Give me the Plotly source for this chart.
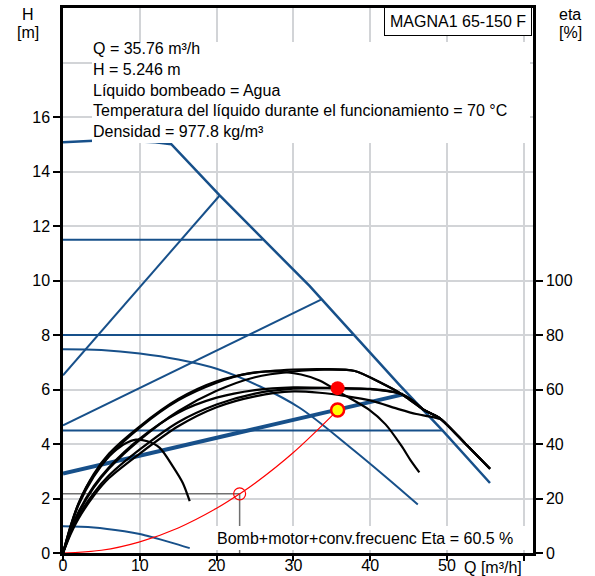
import plotly.graph_objects as go

# ---------------- data ----------------
# Maximum curve (head in m vs flow in m3/h)
q_max = [0, 2, 4, 6, 8, 10, 12, 14.1, 20.4, 26.0, 32.1, 37.8, 43.8, 49.5, 55.6]
h_max = [15.07, 15.1, 15.13, 15.13, 15.12, 15.1, 15.07, 15.0, 13.12, 11.52, 9.8, 8.03, 6.17, 4.47, 2.57]

# Proportional / constant pressure control curves
q_pp_hi = [0, 20.4]
h_pp_hi = [6.52, 13.12]
q_cp_hi = [0, 26.0]
h_cp_hi = [11.5, 11.5]
q_pp_mid = [0, 33.6]
h_pp_mid = [4.68, 9.3]
q_cp_mid = [0, 37.8]
h_cp_mid = [8.0, 8.0]
q_cp_lo = [0, 49.5]
h_cp_lo = [4.5, 4.5]

# Fixed speed curve and minimum curve
q_speed = [0, 5, 10, 15, 20, 25.6, 30.8, 37.3, 42, 46.2]
h_speed = [7.48, 7.45, 7.32, 7.1, 6.76, 6.12, 5.33, 3.9, 2.8, 1.78]
q_min = [0, 4, 8, 10, 12, 14, 16.5]
h_min = [0.98, 0.94, 0.8, 0.7, 0.55, 0.39, 0.18]

# Selected control curve (through the duty point)
q_sel = [0, 35.76, 44.3]
h_sel = [2.92, 5.246, 5.82]

# System curve
q_sys = [0, 5, 10, 15, 20, 23, 25, 30, 35.76]
h_sys = [0, 0.1, 0.41, 0.92, 1.64, 2.17, 2.56, 3.69, 5.246]

# Efficiency curves (eta, %)
eta_curves = [
    ([0, 1, 2, 3, 4, 5, 6, 7, 8, 9.5, 11, 12.6, 14.3, 15.6, 16.5],
     [0, 10, 18, 24, 28.5, 32.5, 35.5, 38, 40, 41.6, 41, 38.6, 31.8, 25.7, 19]),
    ([0, 1, 2, 4, 6, 10, 15, 20, 25, 30, 34, 38, 41.7, 43.8, 45.1, 47, 49, 52.5, 55.6],
     [0, 10, 18, 29, 36.5, 46.5, 56.5, 63, 66.2, 67.3, 67.5, 66.8, 62, 58.8, 56.3, 52.5, 49.6, 39.8, 30.9]),
    ([0, 1, 2, 4, 6, 10, 15, 20, 24, 27, 31, 33.4, 36.5, 39.8, 42, 44.1, 45.2, 46.4],
     [0, 9.5, 17.5, 28, 35.5, 46, 56, 62.5, 65.8, 66.6, 65.5, 63.3, 58.2, 52.7, 47.2, 39.2, 34.3, 29.6]),
    ([0, 1, 2, 4, 6, 10, 15, 20, 25, 30, 35.76, 40, 42.5, 44.2, 45.5, 47, 49, 52.5, 55.6],
     [0, 8.5, 15, 24.5, 31.5, 42, 51.5, 57, 59.8, 60.8, 60.5, 60.2, 59.4, 58.2, 56, 52.5, 49.6, 39.8, 30.9]),
    ([0, 1, 2, 4, 6, 10, 15, 20, 25, 30, 35, 40, 44.2, 45.5, 47, 49, 52.5, 55.6],
     [0, 7.5, 13.5, 22, 28.5, 38, 48, 54.5, 58.5, 60.3, 60.5, 60.1, 58.2, 56, 52.5, 49.6, 39.8, 30.9]),
    ([0, 1, 2, 4, 6, 10, 15, 20, 25, 30, 34, 38, 41.7, 43.8, 45.1, 47, 49, 52.5, 55.6],
     [0, 8, 14.5, 24, 31, 41.5, 52, 59.5, 64.5, 66.6, 67.3, 66.8, 62, 58.8, 56.3, 52.5, 49.6, 39.8, 30.9]),
    ([0, 1, 2, 4, 6, 10, 15, 20, 25, 30, 33.4, 37, 40, 43.8, 46, 48.6, 49.3],
     [0, 7, 12.5, 21, 27.5, 36.5, 46.5, 53.5, 57.5, 59.3, 58.8, 57.5, 56, 52.7, 51, 49.6, 49]),
]

# Duty point and reference point
q_duty = 35.76
h_duty = 5.246
eta_duty = 60.5
q_ref = 23.0
h_ref = 2.17

x_ticks = [0, 10, 20, 30, 40, 50, 60]
x_labels = ["0", "10", "20", "30", "40", "50", ""]
y_ticks = [0, 2, 4, 6, 8, 10, 12, 14, 16]
y2_ticks = [0, 20, 40, 60, 80, 100]

info_lines = [
    "Q = 35.76 m³/h",
    "H = 5.246 m",
    "Líquido bombeado = Agua",
    "Temperatura del líquido durante el funcionamiento = 70 °C",
    "Densidad = 977.8 kg/m³",
]

# ---------------- figure ----------------
BLUE = "#17508a"
FONT = "Liberation Sans, Arial, sans-serif"

fig = go.Figure()

def blue(q, h, w=2.0, shape="linear"):
    fig.add_trace(go.Scatter(x=q, y=h, mode="lines", line=dict(color=BLUE, width=w, shape=shape),
                             hoverinfo="skip", showlegend=False))

blue(q_max, h_max, 2.5)
blue(q_pp_hi, h_pp_hi)
blue(q_cp_hi, h_cp_hi)
blue(q_pp_mid, h_pp_mid)
blue(q_cp_mid, h_cp_mid)
blue(q_speed, h_speed, 2.0, "spline")
blue(q_cp_lo, h_cp_lo)
blue(q_min, h_min, 2.0, "spline")
blue(q_sel, h_sel, 4.0)

for q, e in eta_curves:
    fig.add_trace(go.Scatter(x=q, y=e, yaxis="y2", mode="lines",
                             line=dict(color="black", width=2.2, shape="spline", smoothing=0.8),
                             hoverinfo="skip", showlegend=False))

# reference lines to the axes
fig.add_trace(go.Scatter(x=[0, q_ref, q_ref], y=[h_ref, h_ref, 0], mode="lines",
                         line=dict(color="#707070", width=1.5), hoverinfo="skip", showlegend=False))
# system curve
fig.add_trace(go.Scatter(x=q_sys, y=h_sys, mode="lines", line=dict(color="red", width=1.2, shape="spline"),
                         hoverinfo="skip", showlegend=False))
fig.add_trace(go.Scatter(x=[q_ref], y=[h_ref], mode="markers",
                         marker=dict(symbol="circle-open", size=12, color="red", line=dict(width=1.2, color="red")),
                         hoverinfo="skip", showlegend=False))
# efficiency at duty point
fig.add_trace(go.Scatter(x=[q_duty], y=[eta_duty], yaxis="y2", mode="markers",
                         marker=dict(size=14, color="red", line=dict(width=0)),
                         hoverinfo="skip", showlegend=False))
# duty point
fig.add_trace(go.Scatter(x=[q_duty], y=[h_duty], mode="markers",
                         marker=dict(size=13, color="yellow", line=dict(width=2.5, color="red")),
                         hoverinfo="skip", showlegend=False))

L, R, T, B = 63, 62, 8, 23
W, H = 595, 576
PW, PH = W - L - R, H - T - B

def xp(px):
    return (px - L) / PW

def yp(py):
    return (H - B - py) / PH

grid = "#d2d4d7"
fig.update_layout(
    width=W, height=H,
    margin=dict(l=L, r=R, t=T, b=B, autoexpand=False),
    paper_bgcolor="white", plot_bgcolor="white",
    font=dict(family=FONT, size=16, color="black"),
    showlegend=False,
    xaxis=dict(range=[0, 61.2], tickvals=x_ticks, ticktext=x_labels, showgrid=True, automargin=False,
               gridcolor=grid, gridwidth=1.5, zeroline=False, showline=True, linecolor="black",
               linewidth=2.5, mirror=True, ticks="outside", ticklen=5, tickwidth=1.5, tickcolor="black",
               tickfont=dict(size=16), ticklabelstandoff=-9),
    yaxis=dict(range=[0, 20], tickvals=y_ticks, showgrid=True, gridcolor=grid, gridwidth=1.5,
               automargin=False,
               zeroline=False, showline=True, linecolor="black", linewidth=2.5, mirror=True,
               ticks="outside", ticklen=7, tickwidth=2, tickcolor="black", tickfont=dict(size=16),
               minor=dict(tickvals=[18], showgrid=True, gridcolor=grid, gridwidth=1.5, ticks="")),
    yaxis2=dict(range=[0, 200], overlaying="y", side="right", tickvals=y2_ticks, showgrid=False,
                automargin=False,
                zeroline=False, showline=True, linecolor="black", linewidth=2.5,
                ticks="outside", ticklen=7, tickwidth=2, tickcolor="black", tickfont=dict(size=16)),
)

# white panels behind the text blocks
fig.add_shape(type="rect", xref="paper", yref="paper", x0=xp(92), x1=xp(530), y0=yp(143), y1=yp(42),
              fillcolor="white", line=dict(width=0), layer="above")
fig.add_shape(type="rect", xref="paper", yref="paper", x0=xp(212), x1=xp(531), y0=yp(550), y1=yp(526),
              fillcolor="white", line=dict(width=0), layer="above")

fig.add_annotation(xref="paper", yref="paper", x=xp(92), y=yp(39), xanchor="left", yanchor="top",
                   text="<br>".join(info_lines), align="left", showarrow=False,
                   font=dict(size=16), borderpad=0)
fig.add_annotation(xref="paper", yref="paper", x=xp(532), y=yp(7), xanchor="right", yanchor="top",
                   text="MAGNA1 65-150 F", showarrow=False, font=dict(size=16),
                   bgcolor="white", bordercolor="black", borderwidth=1, borderpad=5)
fig.add_annotation(xref="paper", yref="paper", x=xp(215), y=yp(538), xanchor="left", yanchor="middle",
                   text="Bomb+motor+conv.frecuenc Eta = 60.5 %", showarrow=False, font=dict(size=16))
fig.add_annotation(xref="paper", yref="paper", x=xp(524), y=yp(567), xanchor="right", yanchor="middle",
                   text="Q [m³/h]", showarrow=False, font=dict(size=16))
for txt, ypos in (("H", 15), ("[m]", 32)):
    fig.add_annotation(xref="paper", yref="paper", x=xp(28), y=yp(ypos), xanchor="center",
                       yanchor="middle", text=txt, showarrow=False, font=dict(size=16))
for txt, ypos in (("eta", 15), ("[%]", 32)):
    fig.add_annotation(xref="paper", yref="paper", x=xp(557), y=yp(ypos), xanchor="left",
                       yanchor="middle", text=txt, showarrow=False, font=dict(size=16))

fig.write_html("out.html")
